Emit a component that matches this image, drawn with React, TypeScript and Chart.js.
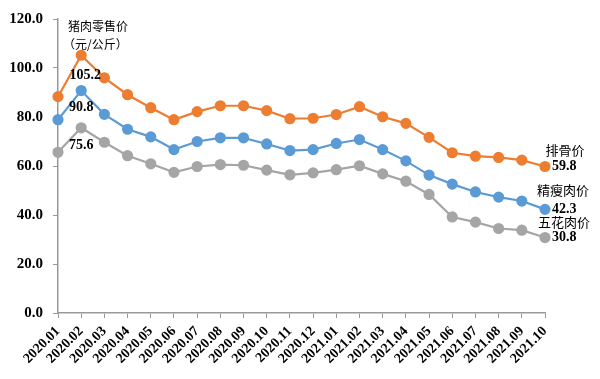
import React, { useEffect, useRef } from "react";
import { Chart, registerables } from "chart.js";

Chart.register(...registerables);

const categories = [
  "2020.01", "2020.02", "2020.03", "2020.04", "2020.05", "2020.06", "2020.07", "2020.08",
  "2020.09", "2020.10", "2020.11", "2020.12", "2021.01", "2021.02", "2021.03", "2021.04",
  "2021.05", "2021.06", "2021.07", "2021.08", "2021.09", "2021.10",
];
const ribs = [88.3, 105.2, 96.0, 89.1, 83.8, 78.9, 82.2, 84.6, 84.6, 82.6, 79.3, 79.5, 81.0, 84.2, 80.1, 77.4, 71.7, 65.4, 64.0, 63.5, 62.4, 59.8];
const lean = [78.9, 90.8, 81.1, 75.0, 71.9, 66.7, 70.0, 71.5, 71.5, 69.0, 66.3, 66.7, 69.2, 70.8, 66.7, 62.1, 56.3, 52.6, 49.4, 47.3, 45.7, 42.3];
const belly = [65.6, 75.6, 69.7, 64.2, 60.9, 57.4, 59.8, 60.6, 60.3, 58.3, 56.4, 57.2, 58.5, 60.1, 56.8, 53.8, 48.4, 39.2, 37.1, 34.5, 33.8, 30.8];
const seriesNames = ["排骨价", "精瘦肉价", "五花肉价"];
const seriesColors = ["#ED7D31", "#5B9BD5", "#A5A5A5"];
const titleLines = ["猪肉零售价", "（元/公斤）"];

const SERIF = "'Liberation Serif', 'Times New Roman', serif";
const NUM_FONT = "bold 14px " + SERIF;
const CJK_FONT = "13px 'Noto Sans CJK SC', sans-serif";

const labelPlugin = {
  id: "customLabels",
  afterDatasetsDraw(chart: any) {
    const ctx = chart.ctx;
    const area = chart.chartArea;
    ctx.save();
    ctx.fillStyle = "#000";
    ctx.textBaseline = "middle";
    // title
    ctx.font = "12px 'Noto Sans CJK SC', sans-serif";
    ctx.textAlign = "left";
    ctx.fillText(titleLines[0], area.left + 10, area.top + 7);
    ctx.fillText(titleLines[1], area.left + 5, area.top + 25);

    const peakOffsets = [[4, 20], [0, 17], [0, 18]];
    const nameOffsets = [[20, -16], [18, -19], [19, -15]];
    for (let d = 0; d < 3; d++) {
      const meta = chart.getDatasetMeta(d);
      const pt = meta.data[1];
      const v = chart.data.datasets[d].data[1];
      ctx.textAlign = "center";
      ctx.font = NUM_FONT;
      ctx.fillText(v.toFixed(1), pt.x + peakOffsets[d][0], pt.y + peakOffsets[d][1]);
      const n = meta.data.length - 1;
      const last = meta.data[n];
      const lv = chart.data.datasets[d].data[n];
      ctx.textAlign = "left";
      ctx.fillText(lv.toFixed(1), last.x + 7, last.y);
      ctx.textAlign = "center";
      ctx.font = CJK_FONT;
      ctx.fillText(seriesNames[d], last.x + nameOffsets[d][0], last.y + nameOffsets[d][1]);
    }
    ctx.restore();
  },
};

export default function App() {
  const ref = useRef<HTMLCanvasElement>(null);
  useEffect(() => {
    document.body.style.margin = "0";
    const datasets = [ribs, lean, belly].map((data, i) => ({
      label: seriesNames[i],
      data,
      borderColor: seriesColors[i],
      backgroundColor: seriesColors[i],
      pointBackgroundColor: seriesColors[i],
      pointBorderColor: seriesColors[i],
      pointRadius: 4.5,
      borderWidth: 2.2,
      tension: 0,
    }));
    const chart = new Chart(ref.current!, {
      type: "line",
      data: { labels: categories, datasets },
      options: {
        animation: false,
        responsive: false,
        layout: { padding: { top: 18, right: 55, left: 0, bottom: 0 } },
        plugins: { legend: { display: false }, tooltip: { enabled: false } },
        scales: {
          x: {
            offset: false,
            grid: { drawOnChartArea: false, drawTicks: true, tickLength: 5, color: "#999" },
            border: { color: "#999", width: 1.5 },
            ticks: {
              autoSkip: false,
              maxRotation: 45,
              minRotation: 45,
              color: "#000",
              padding: 5,
              font: { family: SERIF, size: 14, weight: "bold" },
            },
            afterFit: (s: any) => { s.height = 66; },
          },
          y: {
            min: 0,
            max: 120,
            ticks: {
              stepSize: 20,
              color: "#000",
              padding: 10,
              callback: (v: any) => Number(v).toFixed(1),
              font: { family: SERIF, size: 15, weight: "bold" },
            },
            grid: { drawOnChartArea: false, drawTicks: true, tickLength: 5, color: "#999" },
            border: { color: "#999", width: 1.5 },
            afterFit: (s: any) => { s.width = 58; },
          },
        },
      },
      plugins: [labelPlugin],
    } as any);
    return () => chart.destroy();
  }, []);
  return <canvas ref={ref} width={600} height={379} style={{ display: "block" }} />;
}
